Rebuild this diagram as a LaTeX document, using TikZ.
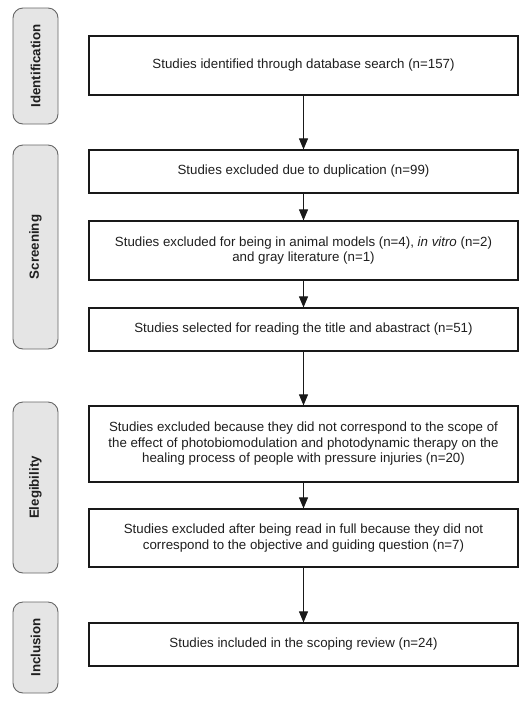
\documentclass[tikz,border=0pt]{standalone}
\usepackage{fontspec}
\setmainfont{Liberation Sans}
\usetikzlibrary{arrows.meta}
\begin{document}
\begin{tikzpicture}[x=1pt,y=-1pt,
  font=\fontsize{13.3}{15.5}\selectfont,
  box/.style={draw=black!90, line width=1.2pt, minimum width=429pt, align=center, text=black!88, inner sep=0pt},
  phase/.style={draw=black!60, line width=0.9pt, fill=black!10, rounded corners=10pt, rotate=90, minimum height=45pt, inner sep=0pt, font=\fontsize{13.3}{15.5}\selectfont\bfseries, text=black!88},
  arr/.style={line width=1pt, draw=black!90, -{Triangle[length=11pt,width=9pt]}}
]
\useasboundingbox (0,0) rectangle (530,702);
\fill[white] (0,0) rectangle (530,702);

\node[phase, minimum width=116pt] (p1) at (35.5,66) {Identification};
\node[phase, minimum width=204pt] (p2) at (35.5,247) {Screening};
\node[phase, minimum width=171pt] (p3) at (35.5,487.5) {Elegibility};
\node[phase, minimum width=91pt] (p4) at (35.5,647.5) {Inclusion};

\node[box, minimum height=59pt] (b1) at (303.5,65.5) {Studies identified through database search (n=157)};
\node[box, minimum height=43pt] (b2) at (303.5,171.5) {Studies excluded due to duplication (n=99)};
\node[box, minimum height=59pt] (b3) at (303.5,250.5) {Studies excluded for being in animal models (n=4), \textit{in vitro} (n=2)\\and gray literature (n=1)};
\node[box, minimum height=43pt] (b4) at (303.5,329.5) {Studies selected for reading the title and abastract (n=51)};
\node[box, minimum height=76pt] (b5) at (303.5,444) {Studies excluded because they did not correspond to the scope of\\the effect of photobiomodulation and photodynamic therapy on the\\healing process of people with pressure injuries (n=20)};
\node[box, minimum height=58pt] (b6) at (303.5,538) {Studies excluded after being read in full because they did not\\correspond to the objective and guiding question (n=7)};
\node[box, minimum height=43pt] (b7) at (303.5,644.5) {Studies included in the scoping review (n=24)};

\draw[arr] (b1) -- (b2);
\draw[arr] (b2) -- (b3);
\draw[arr] (b3) -- (b4);
\draw[arr] (b4) -- (b5);
\draw[arr] (b5) -- (b6);
\draw[arr] (b6) -- (b7);
\end{tikzpicture}
\end{document}
